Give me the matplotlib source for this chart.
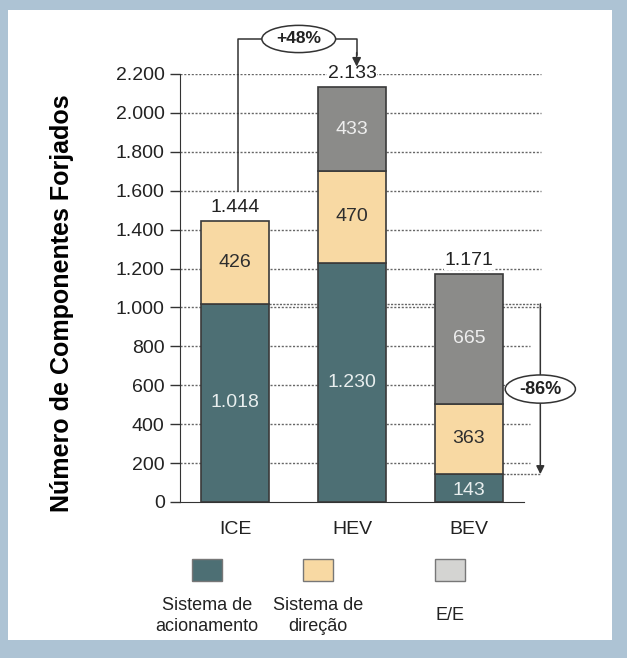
import matplotlib.pyplot as plt
import numpy as np
from matplotlib.patches import Rectangle, Ellipse, FancyArrowPatch

plt.rcParams['font.family'] = ['Liberation Sans', 'DejaVu Sans']

categories = ['ICE', 'HEV', 'BEV']
acionamento = [1018, 1230, 143]
direcao = [426, 470, 363]
ee = [0, 433, 665]
totals = ['1.444', '2.133', '1.171']
inner_labels = [['1.018', '1.230', '143'], ['426', '470', '363'], ['', '433', '665']]
series_names = ['Sistema de\nacionamento', 'Sistema de\ndireção', 'E/E']

c_teal = '#4d6f74'
c_tan = '#f8d9a3'
c_grey = '#8b8b89'
edge = '#3a3a3a'

fig = plt.figure(figsize=(6.27, 6.58), dpi=100, facecolor='#adc3d4')
fig.patches.append(Rectangle((8/627, 18/658), 604/627, 630/658, transform=fig.transFigure,
                             facecolor='white', edgecolor='none', zorder=-5))

ax = fig.add_axes([180/627, 156/658, 365/627, 428/658])
ax.set_facecolor('none')
x = np.arange(len(categories))
w = 0.58

ticks = np.arange(0, 2201, 200)
# dotted gridlines
for t in ticks[1:]:
    right = 2.52 if t < 1000 else 2.62
    ax.hlines(t, -0.47, right, colors='#666666', linestyles=(0, (1.5, 1.2)), lw=1, zorder=1)

bottom2 = np.array(acionamento) + np.array(direcao)
ax.bar(x, acionamento, w, color=c_teal, edgecolor=edge, lw=1.2, zorder=3)
ax.bar(x, direcao, w, bottom=acionamento, color=c_tan, edgecolor=edge, lw=1.2, zorder=3)
ax.bar(x[1:], ee[1:], w, bottom=bottom2[1:], color=c_grey, edgecolor=edge, lw=1.2, zorder=3)

# values inside bars
for i in range(len(x)):
    ax.text(x[i], acionamento[i] / 2 if i < 2 else acionamento[i] / 2 - 10, inner_labels[0][i],
            ha='center', va='center', color='#e8eeee', fontsize=14, zorder=5)
    ax.text(x[i], acionamento[i] + direcao[i] / 2, inner_labels[1][i],
            ha='center', va='center', color='#2e2e2e', fontsize=14, zorder=5)
    if ee[i]:
        ax.text(x[i], bottom2[i] + ee[i] / 2, inner_labels[2][i],
                ha='center', va='center', color='#eeeeee', fontsize=14, zorder=5)
    top = acionamento[i] + direcao[i] + ee[i]
    ax.annotate(totals[i], (x[i], top), xytext=(0, 10), textcoords='offset points',
                ha='center', va='center', fontsize=14, color='#222222', zorder=5,
                bbox=dict(boxstyle='square,pad=0.05', fc='white', ec='none'))

ax.set_xlim(-0.47, 2.65)
ax.set_ylim(0, 2200)
ax.set_yticks(ticks)
ax.set_yticklabels([f'{t:,}'.replace(',', '.') for t in ticks], fontsize=14, color='#222222')
ax.set_xticks(x)
ax.set_xticklabels(categories, fontsize=14, color='#222222')
ax.tick_params(axis='x', length=0, pad=14)
ax.tick_params(axis='y', length=7, width=1, color='#333333', pad=4)
for s in ['top', 'right']:
    ax.spines[s].set_visible(False)
ax.spines['left'].set_color('#333333')
ax.spines['bottom'].set_color('#333333')
ax.spines['bottom'].set_bounds(-0.47, 2.47)
ax.set_ylabel('Número de Componentes Forjados', fontsize=18, fontweight='bold')
ax.yaxis.set_label_coords(-0.29, 0.465)

# +48% bracket from ICE to HEV
lk = dict(color='#333333', lw=1.1, clip_on=False, zorder=4)
by = 2380
ax.plot([0.03, 0.03, 0.23], [1600, by, by], **lk)
ax.plot([0.86, 1.04, 1.04], [by, by, 2300], **lk)
ax.add_patch(FancyArrowPatch((1.04, 2310), (1.04, 2238), arrowstyle='-|>', mutation_scale=13,
                             color='#333333', lw=1.1, clip_on=False, zorder=7,
                             shrinkA=0, shrinkB=0))
ax.add_patch(Ellipse((0.545, by), 0.63, 140, facecolor='white', edgecolor='#333333',
                     lw=1.1, clip_on=False, zorder=5))
ax.text(0.545, by, '+48%', ha='center', va='center', fontsize=12.5, fontweight='bold',
        color='#222222', zorder=6, clip_on=False)

# -86% arrow for BEV
ax.hlines(acionamento[0], w / 2, 2.61, colors='#666666', linestyles=(0, (1.5, 1)), lw=1, zorder=2)
ax.hlines(acionamento[2], 2 + w / 2, 2.61, colors='#666666', linestyles=(0, (1.5, 1)), lw=1, zorder=2)
ax.add_patch(FancyArrowPatch((2.61, acionamento[0]), (2.61, acionamento[2]), arrowstyle='-|>',
                             mutation_scale=12, color='#333333', lw=1.1, clip_on=False,
                             zorder=4, shrinkA=0, shrinkB=0))
mid = (acionamento[0] + acionamento[2]) / 2
ax.add_patch(Ellipse((2.61, mid), 0.6, 145, facecolor='white', edgecolor='#333333',
                     lw=1.1, clip_on=False, zorder=5))
ax.text(2.61, mid, '-86%', ha='center', va='center', fontsize=13, fontweight='bold',
        color='#222222', zorder=6, clip_on=False)

# legend drawn below
leg_colors = [c_teal, c_tan, '#d4d4d2']
leg_x = [207, 318, 450]
for lx, col, name in zip(leg_x, leg_colors, series_names):
    fig.patches.append(Rectangle(((lx - 15) / 627, (658 - 581) / 658), 30 / 627, 22 / 658,
                                 transform=fig.transFigure, facecolor=col,
                                 edgecolor='#777777', lw=1, zorder=2))
    fig.text(lx / 627, (658 - 616) / 658, name, ha='center', va='center', fontsize=13,
             color='#222222', linespacing=1.25)

fig.savefig('out.png', dpi=100, facecolor=fig.get_facecolor())
